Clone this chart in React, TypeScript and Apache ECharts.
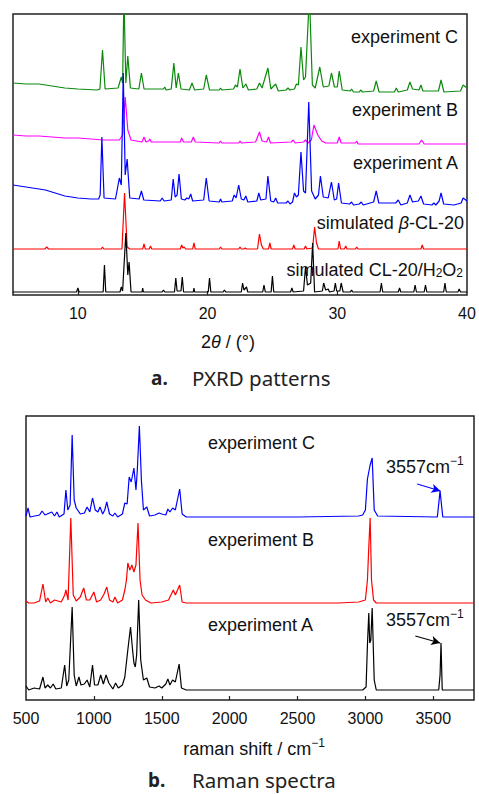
import React, { useEffect, useRef } from "react";
import * as echarts from "echarts";

// ---------- PXRD (panel a) : [2theta, intensity (a.u., offset)] ----------
const pxrdExpC: number[][] = [
  [5, 212], [6, 211], [7, 211], [8, 209], [9, 207], [10, 206], [11.5, 205],
  [11.7, 206], [11.9, 245], [12.1, 206], [13.1, 207], [13.35, 218], [13.45, 212], [13.55, 300],
  [13.7, 212], [13.85, 239], [14.05, 207], [14.7, 206], [14.9, 222], [15.1, 206],
  [16.6, 206], [16.7, 208], [16.8, 205], [17.2, 206], [17.4, 232], [17.58, 207], [17.75, 222], [17.95, 206],
  [18.6, 205], [18.8, 212], [19.0, 205], [19.7, 206], [19.9, 220], [20.15, 205],
  [20.9, 205], [21.0, 207], [21.1, 205], [22.0, 206], [22.15, 210], [22.3, 208], [22.5, 226], [22.72, 207],
  [22.95, 211], [23.15, 205], [23.8, 206], [24.0, 212], [24.2, 207], [24.65, 227], [24.88, 206],
  [25.25, 211], [25.45, 204], [26.05, 205], [26.2, 207], [26.35, 205], [26.7, 206], [26.85, 211],
  [27.0, 210], [27.2, 248], [27.4, 215], [27.55, 218], [27.85, 300], [28.08, 210], [28.3, 207],
  [28.65, 228], [28.92, 208], [29.35, 209], [29.55, 222], [29.78, 208], [30.0, 208], [30.15, 224],
  [30.38, 205], [31.0, 204], [31.1, 206], [31.25, 203], [31.7, 203], [31.8, 205], [31.95, 203],
  [32.8, 204], [33.0, 214], [33.22, 203], [34.4, 203], [34.55, 207], [34.7, 203], [35.4, 205],
  [35.6, 213], [35.8, 206], [36.3, 205], [36.45, 210], [36.6, 204], [37.8, 204], [38.0, 215],
  [38.22, 203], [39.5, 204], [39.7, 210], [40, 207],
];
const pxrdExpB: number[][] = [
  [5, 160], [6, 159], [7, 159], [8, 158], [9, 157], [10, 157], [11, 156], [12, 155], [13.2, 155],
  [13.45, 160], [13.65, 198], [13.85, 165], [14.1, 155], [14.95, 153], [15.1, 158], [15.25, 153],
  [15.45, 154], [15.55, 156], [15.65, 153], [17.9, 153], [18.0, 157], [18.15, 153], [18.75, 153],
  [18.9, 158], [19.05, 153], [20.9, 152], [21.0, 154], [21.1, 152], [22.4, 152], [22.5, 154],
  [22.6, 152], [23.7, 153], [24.0, 163], [24.2, 154], [24.55, 153], [24.7, 158], [24.85, 152],
  [26.45, 153], [26.6, 155], [26.75, 152], [27.4, 153], [27.55, 155], [27.75, 152], [28.0, 155],
  [28.2, 170], [28.5, 160], [28.8, 154], [29.1, 152], [30.0, 152], [30.15, 158], [30.3, 152],
  [31.4, 152], [31.5, 154], [31.6, 151], [36.3, 151], [36.5, 155], [36.7, 151], [40, 151],
];
const pxrdExpA: number[][] = [
  [5, 110], [6, 108], [7, 106], [7.5, 105], [8, 103], [9, 99], [10, 97], [11.0, 96], [11.6, 96],
  [11.72, 100], [11.85, 158], [12.02, 97], [12.9, 96], [13.2, 117], [13.35, 110], [13.5, 222],
  [13.65, 120], [13.8, 136], [14.0, 97], [14.72, 96], [14.9, 104], [15.08, 95], [16.35, 94],
  [16.5, 97], [16.65, 94], [17.2, 95], [17.35, 116], [17.5, 98], [17.65, 100], [17.8, 121],
  [17.98, 96], [18.25, 95], [18.4, 97], [18.55, 96], [18.7, 101], [18.85, 94], [19.7, 95],
  [19.9, 117], [20.12, 94], [20.9, 93], [21.0, 96], [21.1, 93], [21.9, 94], [22.05, 100], [22.2, 97],
  [22.4, 110], [22.6, 96], [22.8, 95], [22.95, 99], [23.1, 93], [23.8, 94], [23.95, 102], [24.1, 95],
  [24.5, 96], [24.65, 119], [24.87, 94], [25.1, 93], [25.25, 97], [25.4, 92], [26.05, 92],
  [26.2, 94], [26.35, 91], [26.55, 93], [26.7, 102], [26.85, 98], [27.0, 100], [27.2, 143],
  [27.4, 104], [27.55, 102], [27.8, 193], [28.02, 104], [28.3, 96], [28.55, 100], [28.7, 119],
  [28.92, 98], [29.3, 97], [29.55, 113], [29.77, 95], [29.95, 96], [30.1, 112], [30.32, 92],
  [30.95, 91], [31.1, 93], [31.25, 90], [31.7, 91], [31.85, 93], [32.0, 90], [32.8, 93], [33.0, 104],
  [33.2, 92], [34.5, 92], [34.7, 95], [34.9, 90], [35.4, 92], [35.6, 100], [35.8, 93], [36.25, 94],
  [36.45, 99], [36.65, 91], [37.3, 90], [37.45, 92], [37.6, 90], [37.85, 94], [38.0, 102], [38.2, 91],
  [39.0, 90], [39.55, 92], [39.7, 97], [40, 94],
];
const pxrdSimBeta: number[][] = [
  [5, 46], [7.45, 46], [7.6, 48], [7.75, 46], [11.8, 46], [11.9, 48], [12.0, 46], [13.4, 46],
  [13.6, 102], [13.8, 48], [14.0, 46], [15.0, 46], [15.1, 51], [15.2, 46], [15.5, 46], [15.6, 49],
  [15.7, 46], [17.9, 46], [18.0, 50], [18.1, 47], [18.2, 48], [18.3, 46], [18.85, 46], [18.95, 52],
  [19.05, 46], [20.9, 46], [21.0, 48], [21.1, 46], [22.4, 46], [22.5, 48], [22.6, 46], [22.8, 46],
  [22.9, 47], [23.0, 46], [23.85, 46], [24.0, 61], [24.15, 50], [24.3, 46], [24.7, 46], [24.8, 52],
  [24.9, 46], [26.55, 46], [26.65, 50], [26.75, 46], [27.45, 46], [27.55, 49], [27.65, 46],
  [28.1, 47], [28.25, 68], [28.4, 52], [28.55, 46], [30.05, 46], [30.15, 54], [30.25, 46],
  [30.55, 46], [30.65, 49], [30.75, 46], [31.4, 46], [31.5, 48], [31.6, 46], [36.45, 46],
  [36.55, 50], [36.65, 46], [40, 46],
];
const pxrdSimH2O2: number[][] = [
  [5, 3], [9.9, 3], [10.0, 7], [10.1, 3], [11.95, 3], [12.05, 30], [12.15, 3], [13.25, 3], [13.35, 8],
  [13.45, 4], [13.7, 62], [13.85, 20], [13.95, 33], [14.1, 3], [14.95, 3], [15.0, 7], [15.05, 3],
  [16.5, 3], [16.6, 5], [16.7, 3], [17.45, 3], [17.55, 17], [17.65, 4], [17.95, 4], [18.05, 18],
  [18.15, 3], [18.9, 3], [18.95, 7], [19.0, 3], [20.05, 3], [20.15, 17], [20.25, 3], [21.2, 3],
  [21.3, 5], [21.4, 3], [22.6, 3], [22.7, 12], [22.8, 5], [23.0, 8], [23.1, 3], [24.25, 3],
  [24.35, 10], [24.45, 3], [24.9, 3], [25.0, 19], [25.1, 3], [26.4, 3], [26.5, 7], [26.6, 3],
  [27.4, 4], [27.55, 28], [27.7, 10], [27.95, 12], [28.1, 52], [28.25, 3], [28.85, 4], [28.95, 12],
  [29.1, 5], [29.3, 6], [29.4, 3], [29.75, 4], [29.85, 12], [29.95, 4], [30.2, 4], [30.3, 12],
  [30.45, 3], [31.0, 3], [31.1, 5], [31.2, 3], [33.3, 3], [33.4, 12], [33.5, 3], [34.7, 3], [34.8, 7],
  [34.9, 3], [35.9, 3], [36.0, 10], [36.1, 3], [36.7, 3], [36.8, 10], [36.9, 3], [38.2, 3],
  [38.3, 12], [38.4, 3], [39.3, 3], [39.4, 6], [39.5, 3], [40, 3],
];
const pxrdTickLabels = [10, 20, 30, 40];
const pxrdTicks = [10, 20, 30];

// ---------- Raman (panel b) : [raman shift, intensity (a.u., offset)] ----------
const ramanExpC: number[][] = [
  [500, 184], [515, 192], [530, 183], [600, 185], [618, 189], [640, 185], [690, 188], [710, 184],
  [728, 188], [745, 183], [780, 186], [794, 210], [808, 190], [825, 195], [840, 265], [855, 200],
  [870, 192], [900, 186], [930, 187], [950, 193], [970, 188], [990, 202], [1010, 190], [1030, 188],
  [1045, 193], [1065, 186], [1080, 190], [1095, 198], [1115, 186], [1140, 184], [1155, 187],
  [1175, 183], [1210, 186], [1228, 197], [1245, 196], [1260, 223], [1275, 218], [1295, 232],
  [1310, 210], [1320, 230], [1335, 274], [1350, 220], [1365, 190], [1390, 193], [1410, 184],
  [1450, 185], [1480, 187], [1500, 186], [1530, 185], [1545, 191], [1560, 188], [1580, 192],
  [1600, 190], [1632, 211], [1650, 186], [1680, 183], [2000, 183], [2500, 183], [2950, 184],
  [2980, 185], [3000, 190], [3015, 221], [3035, 235], [3050, 242], [3065, 190], [3090, 184],
  [3530, 183], [3550, 209], [3570, 183], [3800, 183],
];
const ramanExpB: number[][] = [
  [500, 99], [520, 97], [560, 97], [600, 99], [625, 116], [645, 98], [660, 102], [680, 97],
  [710, 100], [760, 98], [785, 105], [794, 110], [810, 100], [830, 182], [848, 105], [870, 99],
  [900, 103], [925, 112], [945, 100], [970, 100], [1000, 108], [1020, 98], [1050, 100], [1075, 106],
  [1095, 113], [1115, 100], [1140, 98], [1155, 103], [1175, 97], [1210, 100], [1228, 110],
  [1240, 120], [1250, 137], [1265, 130], [1280, 135], [1295, 128], [1310, 135], [1325, 177],
  [1340, 120], [1355, 105], [1380, 100], [1420, 97], [1500, 98], [1550, 100], [1585, 110],
  [1600, 105], [1632, 115], [1650, 98], [1680, 97], [2800, 97], [2950, 98], [3000, 100],
  [3015, 120], [3025, 153], [3035, 182], [3045, 120], [3060, 100], [3080, 97], [3800, 97],
];
const ramanExpA: number[][] = [
  [500, 14], [520, 10], [560, 12], [600, 11], [625, 23], [640, 12], [660, 15], [680, 12], [700, 16],
  [720, 11], [760, 12], [785, 35], [800, 14], [815, 20], [840, 93], [855, 25], [870, 14], [890, 23],
  [905, 15], [930, 16], [950, 20], [970, 13], [990, 35], [1005, 15], [1030, 15], [1050, 25],
  [1070, 16], [1090, 25], [1110, 17], [1140, 11], [1160, 17], [1180, 12], [1210, 15], [1228, 23],
  [1250, 50], [1270, 73], [1285, 50], [1295, 37], [1305, 33], [1315, 45], [1330, 100], [1345, 40],
  [1365, 20], [1390, 22], [1410, 13], [1450, 12], [1480, 14], [1500, 12], [1530, 16], [1545, 21],
  [1560, 15], [1580, 20], [1600, 18], [1628, 36], [1645, 12], [1680, 10], [2000, 10], [2500, 10],
  [2980, 10], [3005, 13], [3015, 55], [3025, 87], [3032, 57], [3040, 60], [3050, 92], [3065, 20],
  [3080, 10], [3540, 10], [3550, 25], [3557, 57], [3566, 10], [3800, 10],
];
const ramanTickLabels = [500, 1000, 1500, 2000, 2500, 3000, 3500];
const ramanTicks = [1000, 1500, 2000, 2500, 3000, 3500];
// arrows pointing at the 3557 cm-1 band: [start, end]
const arrowC: number[][] = [[3382, 216], [3553, 209]];
const arrowA: number[][] = [[3368, 64], [3551, 57]];

const FONT = "'Liberation Sans', Arial, sans-serif";
const CAPTION_FONT = "'Noto Sans', 'Open Sans', sans-serif";

export default function App() {
  const ref = useRef<HTMLDivElement>(null);
  useEffect(() => {
    if (!ref.current) return;
    const chart = echarts.init(ref.current, undefined, { renderer: "svg" });
    const line = (
      name: string,
      data: number[][],
      color: string,
      idx: number,
      extra: any = {}
    ) => ({
      type: "line",
      name,
      data,
      xAxisIndex: idx,
      yAxisIndex: idx,
      showSymbol: false,
      symbol: "none",
      clip: true,
      lineStyle: { color, width: 1.2 },
      itemStyle: { color },
      silent: true,
      ...extra,
    });
    const arrow = (pts: number[][], color: string) => ({
      markLine: {
        silent: true,
        symbol: ["none", "arrow"],
        symbolSize: [7, 9],
        label: { show: false },
        lineStyle: { color, width: 1.2, type: "solid" },
        data: [[{ coord: pts[0] }, { coord: pts[1] }]],
      },
    });
    const axisLabelStyle = {
      color: "#111",
      fontSize: 16,
      fontFamily: FONT,
      formatter: (v: number) => String(v),
    };
    const labelText = (
      x: number,
      y: number,
      text: string,
      align: string,
      rich?: any
    ) => ({
      type: "text",
      x,
      y,
      silent: true,
      style: {
        text,
        fill: "#111",
        fontSize: 18,
        fontFamily: FONT,
        align,
        verticalAlign: "middle",
        rich,
      },
    });
    const subRich = {
      n: { fontSize: 18, fontFamily: FONT, lineHeight: 21, verticalAlign: "bottom", fill: "#111" },
      s: { fontSize: 12, fontFamily: FONT, lineHeight: 12, padding: [9, 0, 0, 0], verticalAlign: "bottom", fill: "#111" },
      i: { fontSize: 18, fontFamily: FONT, fontStyle: "italic", lineHeight: 21, verticalAlign: "bottom", fill: "#111" },
      u: { fontSize: 12, fontFamily: FONT, lineHeight: 12, padding: [0, 0, 9, 0], verticalAlign: "bottom", fill: "#111" },
    };
    const caption = (x: number, y: number, text: string, size: number, weight: string) => ({
      type: "text",
      x,
      y,
      silent: true,
      style: {
        text,
        fill: "#222",
        fontSize: size,
        fontWeight: weight,
        fontFamily: CAPTION_FONT,
        lineHeight: 22,
        align: "left",
        verticalAlign: "middle",
      },
    });
    chart.setOption({
      animation: false,
      backgroundColor: "#fff",
      grid: [
        { left: 13, top: 14, width: 454, height: 281, show: true, borderColor: "#222", borderWidth: 1.5, backgroundColor: "transparent" },
        { left: 26, top: 416, width: 448, height: 284, show: true, borderColor: "#222", borderWidth: 1.5, backgroundColor: "transparent" },
      ],
      xAxis: [
        {
          type: "value", gridIndex: 0, min: 5, max: 40,
          axisLine: { show: false },
          axisTick: { show: true, inside: true, length: 4, customValues: pxrdTicks, lineStyle: { color: "#222", width: 1.2 } },
          axisLabel: { ...axisLabelStyle, margin: 10, customValues: pxrdTickLabels },
          splitLine: { show: false },
        },
        {
          type: "value", gridIndex: 1, min: 500, max: 3800,
          axisLine: { show: false },
          axisTick: { show: true, inside: true, length: 4, customValues: ramanTicks, lineStyle: { color: "#222", width: 1.2 } },
          axisLabel: { ...axisLabelStyle, margin: 10, customValues: ramanTickLabels },
          splitLine: { show: false },
        },
      ],
      yAxis: [
        { type: "value", gridIndex: 0, min: 0, max: 281, show: false, splitLine: { show: false } },
        { type: "value", gridIndex: 1, min: 0, max: 284, show: false, splitLine: { show: false } },
      ],
      series: [
        line("experiment C", pxrdExpC, "#0a8a0a", 0),
        line("experiment B", pxrdExpB, "#ff00ff", 0),
        line("experiment A", pxrdExpA, "#0000ff", 0),
        line("simulated β-CL-20", pxrdSimBeta, "#ff0000", 0),
        line("simulated CL-20/H2O2", pxrdSimH2O2, "#000000", 0),
        line("Raman experiment C", ramanExpC, "#0000ff", 1, arrow(arrowC, "#0000ff")),
        line("Raman experiment B", ramanExpB, "#ff0000", 1),
        line("Raman experiment A", ramanExpA, "#000000", 1, arrow(arrowA, "#000000")),
      ],
      graphic: [
        labelText(458, 37, "experiment C", "right"),
        labelText(458, 110, "experiment B", "right"),
        labelText(458, 163, "experiment A", "right"),
        labelText(464, 221, "{n|simulated }{i|β}{n|-CL-20}", "right", subRich),
        labelText(463, 268, "{n|simulated CL-20/H}{s|2}{n|O}{s|2}", "right", subRich),
        labelText(228, 340, "{n|2}{i|θ}{n| / (°)}", "center", subRich),
        labelText(208, 443, "experiment C", "left"),
        labelText(208, 540, "experiment B", "left"),
        labelText(208, 625, "experiment A", "left"),
        labelText(386, 465, "{n|3557cm}{u|−1}", "left", subRich),
        labelText(386, 618, "{n|3557cm}{u|−1}", "left", subRich),
        labelText(254, 747, "{n|raman shift / cm}{u|−1}", "center", subRich),
        caption(151, 378, "a.", 19, "bold"),
        caption(192, 378, "PXRD patterns", 20.5, "normal"),
        caption(148, 780, "b.", 19, "bold"),
        caption(192, 780, "Raman spectra", 20.5, "normal"),
      ],
    });
    return () => chart.dispose();
  }, []);
  return (
    <div
      ref={ref}
      style={{ position: "absolute", left: 0, top: 0, width: 479, height: 794, background: "#fff" }}
    />
  );
}
